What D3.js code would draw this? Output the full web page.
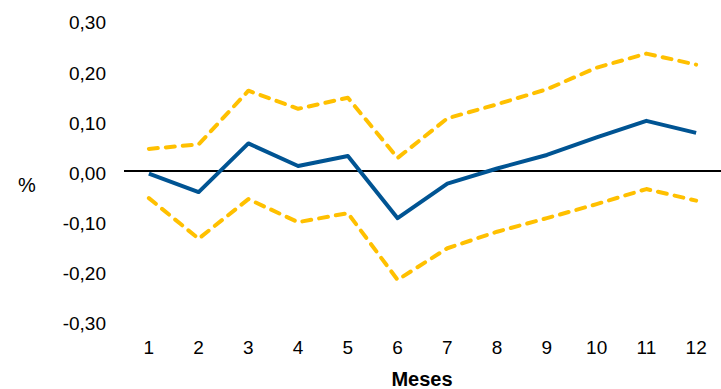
<!DOCTYPE html>
<html>
<head>
<meta charset="utf-8">
<script src="https://cdn.jsdelivr.net/npm/d3@7"></script>
<style>
  html, body { margin: 0; padding: 0; background: #fff; }
  svg { display: block; }
  text { font-family: "Liberation Sans", Arial, sans-serif; fill: #000; }
</style>
</head>
<body>
<svg id="chart" width="721" height="389"></svg>
<script>
// Months ahead
const months = [1, 2, 3, 4, 5, 6, 7, 8, 9, 10, 11, 12];
// Central estimate (%)
const central = [-0.005, -0.042, 0.055, 0.010, 0.030, -0.094, -0.025, 0.005, 0.032, 0.067, 0.100, 0.076];
// Upper bound (%)
const upper = [0.044, 0.053, 0.160, 0.124, 0.146, 0.026, 0.105, 0.133, 0.163, 0.206, 0.234, 0.212];
// Lower bound (%)
const lower = [-0.054, -0.135, -0.056, -0.102, -0.084, -0.217, -0.154, -0.121, -0.094, -0.066, -0.036, -0.059];
// Y axis ticks
const yTicks = [-0.30, -0.20, -0.10, 0.00, 0.10, 0.20, 0.30];

const svg = d3.select("#chart");
const plot = { left: 124, right: 721, top: 20.5, bottom: 321.5 };

const x = d3.scaleBand().domain(months).range([plot.left, plot.right]);
const y = d3.scaleLinear().domain([-0.30, 0.30]).range([plot.bottom, plot.top]);
const cx = d => x(d) + x.bandwidth() / 2;

const fmt = v => d3.format(".2f")(v).replace(".", ",").replace("−", "-");

// Y axis labels
const yAxis = d3.axisLeft(y).tickValues(yTicks).tickFormat(fmt).tickSize(0).tickPadding(0);
const gy = svg.append("g").attr("transform", "translate(106,0)").call(yAxis);
gy.select(".domain").remove();
gy.selectAll("text")
  .attr("font-size", 19)
  .attr("font-family", "Liberation Sans, Arial, sans-serif")
  .attr("dy", "0.42em")
  .attr("transform", "translate(0,0.5)");

// X axis labels
const xAxis = d3.axisBottom(x).tickSize(0).tickPadding(0);
const gx = svg.append("g").attr("transform", "translate(0,340)").call(xAxis);
gx.select(".domain").remove();
gx.selectAll("text")
  .attr("font-size", 19)
  .attr("font-family", "Liberation Sans, Arial, sans-serif")
  .attr("dy", "0.71em");

// Axis titles
svg.append("text")
  .attr("x", 27).attr("y", 191.5)
  .attr("text-anchor", "middle")
  .attr("font-size", 20)
  .text("%");

svg.append("text")
  .attr("x", 422).attr("y", 386)
  .attr("text-anchor", "middle")
  .attr("font-size", 20)
  .attr("font-weight", "bold")
  .text("Meses");

// Zero line
svg.append("line")
  .attr("x1", plot.left).attr("x2", plot.right)
  .attr("y1", y(0)).attr("y2", y(0))
  .attr("stroke", "#000").attr("stroke-width", 2);

const line = d3.line().x((d, i) => cx(months[i])).y(d => y(d));

// Bounds (dashed)
[upper, lower].forEach(series => {
  svg.append("path")
    .datum(series)
    .attr("d", line)
    .attr("fill", "none")
    .attr("stroke", "#FFC000")
    .attr("stroke-width", 4)
    .attr("stroke-dasharray", "9,8")
    .attr("stroke-linecap", "round")
    .attr("stroke-linejoin", "round");
});

// Central estimate
svg.append("path")
  .datum(central)
  .attr("d", line)
  .attr("fill", "none")
  .attr("stroke", "#005493")
  .attr("stroke-width", 4)
  .attr("stroke-linejoin", "round");
</script>
</body>
</html>
